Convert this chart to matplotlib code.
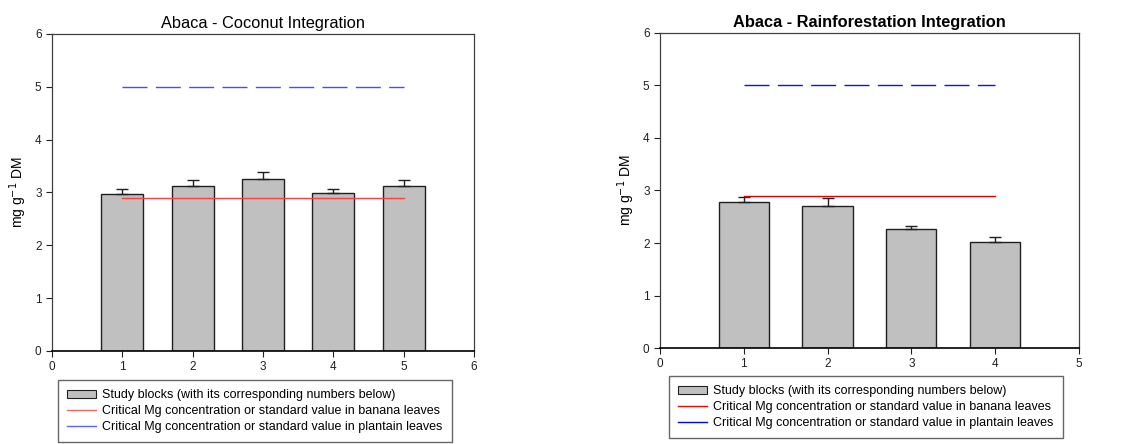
import numpy as np
import matplotlib
matplotlib.use('Agg')
from matplotlib import pyplot as plt
from matplotlib.patches import Patch
from matplotlib.lines import Line2D

plt.rcParams['font.family'] = ['Liberation Sans', 'DejaVu Sans']

# Abaca - Coconut Integration
coco_blocks = [1, 2, 3, 4, 5]
coco_mg = [2.98, 3.12, 3.26, 2.99, 3.12]
coco_err = [0.09, 0.11, 0.12, 0.07, 0.11]

# Abaca - Rainforestation Integration
rain_blocks = [1, 2, 3, 4]
rain_mg = [2.78, 2.71, 2.27, 2.02]
rain_err = [0.10, 0.15, 0.05, 0.10]

banana_std = 2.9
plantain_std = 5.0

legend_labels = ['Study blocks (with its corresponding numbers below)',
                 'Critical Mg concentration or standard value in banana leaves',
                 'Critical Mg concentration or standard value in plantain leaves']


def draw_panel(ax, blocks, vals, errs, xmax, title, bold, red, blue):
    ax.bar(blocks, vals, width=0.6, color='#c0c0c0', edgecolor='#202020',
           linewidth=1.0, zorder=2)
    ax.errorbar(blocks, vals, yerr=[np.zeros(len(errs)), errs], fmt='none',
                ecolor='#202020', elinewidth=1.0, capsize=4, capthick=1.0,
                zorder=3)
    ax.plot([blocks[0], blocks[-1]], [banana_std, banana_std], color=red,
            lw=1.0, zorder=4)
    ax.plot([blocks[0], blocks[-1]], [plantain_std, plantain_std], color=blue,
            lw=1.0, dashes=(18, 6), zorder=4)
    ax.set_xlim(0, xmax)
    ax.set_ylim(0, 6)
    ax.set_xticks(range(0, xmax + 1))
    ax.set_yticks(range(0, 7))
    ax.tick_params(direction='out', length=4, labelsize=8.5, width=0.8,
                   colors='#202020')
    for s in ['left', 'top', 'right']:
        ax.spines[s].set_color('#404040')
        ax.spines[s].set_linewidth(0.9)
    ax.spines['bottom'].set_color('black')
    ax.spines['bottom'].set_linewidth(1.2)
    ax.set_ylabel('mg g$^{-1}$ DM', fontsize=10)
    ax.set_title(title, fontsize=11.8, fontweight='bold' if bold else 'normal',
                 pad=4)


fig = plt.figure(figsize=(11.22, 4.44), dpi=100)
ax1 = fig.add_axes([0.0463, 0.2095, 0.3761, 0.714])
ax2 = fig.add_axes([0.5882, 0.2162, 0.3734, 0.7095])

draw_panel(ax1, coco_blocks, coco_mg, coco_err, 6,
           'Abaca - Coconut Integration', False, '#ff4040', '#4a4aff')
draw_panel(ax2, rain_blocks, rain_mg, rain_err, 5,
           'Abaca - Rainforestation Integration', True, '#e00000', '#1010f0')

for ax, red, blue, anchor in [(ax1, '#ff6060', '#6060ff', (58 / 1122, 1 - 380 / 444)),
                              (ax2, 'red', 'blue', (669 / 1122, 1 - 376 / 444))]:
    handles = [Patch(facecolor='#c0c0c0', edgecolor='#202020', linewidth=0.8),
               Line2D([], [], color=red, lw=1.0),
               Line2D([], [], color=blue, lw=1.0)]
    fig.legend(handles, legend_labels, loc='upper left', bbox_to_anchor=anchor,
               fontsize=9, frameon=True, fancybox=False, edgecolor='#404040',
               handlelength=2.3, handleheight=0.6, handletextpad=0.5,
               labelspacing=0.3, borderpad=0.75, borderaxespad=0)

fig.savefig('out.png', dpi=100)
